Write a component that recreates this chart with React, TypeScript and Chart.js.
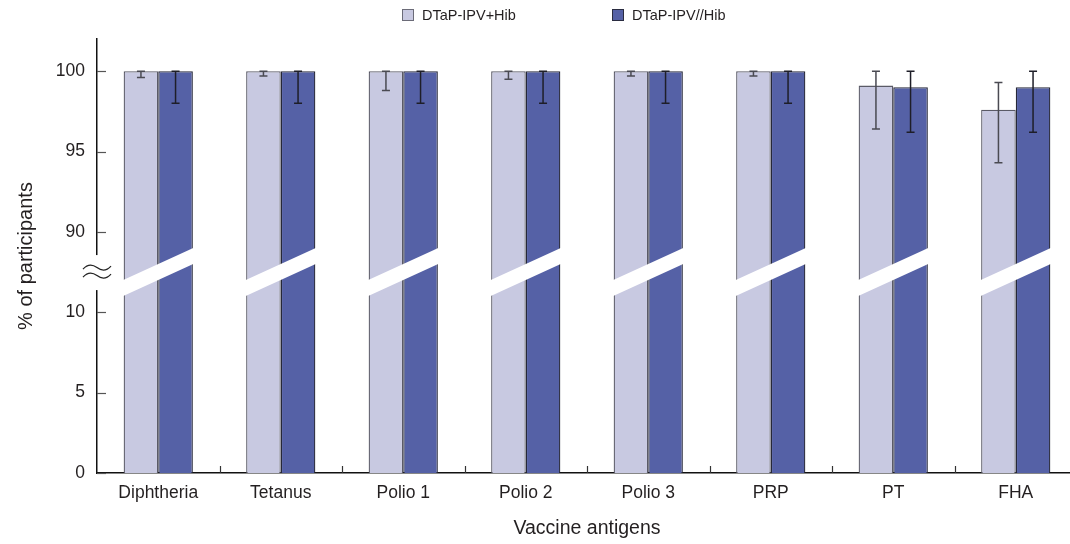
import React, { useEffect, useRef } from 'react';
import { Chart, registerables } from 'chart.js';

Chart.register(...registerables);

// ---------- data ----------
const categories = ['Diphtheria', 'Tetanus', 'Polio 1', 'Polio 2', 'Polio 3', 'PRP', 'PT', 'FHA'];
const seriesNames = ['DTaP-IPV+Hib', 'DTaP-IPV//Hib'];

const combinedValues = [100, 100, 100, 100, 100, 100, 99.1, 97.6];
const combinedLower = [99.6, 99.7, 98.8, 99.5, 99.7, 99.7, 96.4, 94.3];
const combinedUpper = [100, 100, 100, 100, 100, 100, 100, 99.3];

const separateValues = [100, 100, 100, 100, 100, 100, 99.0, 99.0];
const separateLower = [98.0, 98.0, 98.0, 98.0, 98.0, 98.0, 96.2, 96.2];
const separateUpper = [100, 100, 100, 100, 100, 100, 100, 100];

const yTickLabels = ['0', '5', '10', '90', '95', '100'];
const yTickValues = [0, 5, 10, 90, 95, 100];

// broken axis: values from 90 upwards are shifted down by 75
const BREAK_LOW = 10;
const BREAK_HIGH = 90;
const SHIFT = BREAK_HIGH - BREAK_LOW - 5; // 75
const mapValue = (v: number) => (v >= BREAK_HIGH ? v - SHIFT : v);
const BREAK_CENTER = 12.5; // in mapped units
const Y_MAX = 27;

// ---------- style ----------
const FONT = '"Liberation Sans", Arial, Helvetica, sans-serif';
const TEXT = '#231f20';
const LIGHT = '#c8c9e1';
const DARK = '#5561a6';
const LIGHT_BORDER = '#5a5a66';
const DARK_BORDER = '#262838';

const customPlugin = {
  id: 'customDecor',
  afterDatasetsDraw(chart: any) {
    const ctx = chart.ctx;
    const y = chart.scales.y;
    const metas = [chart.getDatasetMeta(0), chart.getDatasetMeta(1)];
    const lows = [combinedLower, separateLower];
    const highs = [combinedUpper, separateUpper];
    const errColors = ['#4a4a52', '#1e1e28'];

    // break bands
    const slope = -32 / 70;
    const half = 8;
    const cy = y.getPixelForValue(BREAK_CENTER);
    ctx.save();
    ctx.fillStyle = '#ffffff';
    categories.forEach((_, i) => {
      const b0 = metas[0].data[i];
      const b1 = metas[1].data[i];
      const L = b0.x - b0.width / 2 - 2;
      const R = b1.x + b1.width / 2 + 2;
      const cx = (L + R) / 2;
      const yl = cy + slope * (L - cx);
      const yr = cy + slope * (R - cx);
      ctx.beginPath();
      ctx.moveTo(L, yl - half);
      ctx.lineTo(R, yr - half);
      ctx.lineTo(R, yr + half);
      ctx.lineTo(L, yl + half);
      ctx.closePath();
      ctx.fill();
    });
    ctx.restore();

    // error bars
    ctx.save();
    ctx.lineWidth = 1.5;
    metas.forEach((meta, d) => {
      ctx.strokeStyle = errColors[d];
      meta.data.forEach((bar: any, i: number) => {
        const yLo = y.getPixelForValue(mapValue(lows[d][i]));
        const yHi = y.getPixelForValue(mapValue(highs[d][i]));
        const x = bar.x;
        ctx.beginPath();
        ctx.moveTo(x, yLo);
        ctx.lineTo(x, yHi);
        ctx.moveTo(x - 4, yLo);
        ctx.lineTo(x + 4, yLo);
        ctx.moveTo(x - 4, yHi);
        ctx.lineTo(x + 4, yHi);
        ctx.stroke();
      });
    });
    ctx.restore();
  },
  afterDraw(chart: any) {
    const ctx = chart.ctx;
    const { left, bottom, right } = chart.chartArea;
    const y = chart.scales.y;
    ctx.save();
    // inward y ticks
    ctx.strokeStyle = '#555';
    ctx.lineWidth = 1.2;
    yTickValues.forEach((v) => {
      const py = Math.round(y.getPixelForValue(mapValue(v))) + 0.5;
      ctx.beginPath();
      ctx.moveTo(left, py);
      ctx.lineTo(left + 9, py);
      ctx.stroke();
    });
    // inward x ticks at category boundaries
    const n = categories.length;
    const w = (right - left) / n;
    ctx.strokeStyle = '#333';
    for (let k = 1; k < n; k++) {
      const px = Math.round(left + k * w) + 0.5;
      ctx.beginPath();
      ctx.moveTo(px, bottom);
      ctx.lineTo(px, bottom - 7);
      ctx.stroke();
    }
    // axis gap and break symbol
    const cy = y.getPixelForValue(BREAK_CENTER);
    ctx.fillStyle = '#ffffff';
    ctx.fillRect(left - 3, cy - 17, 6, 35);
    ctx.strokeStyle = '#222';
    ctx.lineWidth = 1.3;
    [-4.5, 3.5].forEach((dy) => {
      const yy = cy + dy;
      const x0 = left - 14;
      const x1 = left + 14;
      const mid = (x0 + x1) / 2;
      ctx.beginPath();
      ctx.moveTo(x0, yy + 1.5);
      ctx.bezierCurveTo(x0 + 5, yy - 4, mid - 4, yy - 3, mid, yy);
      ctx.bezierCurveTo(mid + 4, yy + 3, x1 - 5, yy + 4, x1, yy - 1.5);
      ctx.stroke();
    });

    // legend
    const items = [
      { x: 402, fill: LIGHT, stroke: '#6b6b78' },
      { x: 612, fill: DARK, stroke: '#2a2c40' },
    ];
    ctx.font = `14.5px ${FONT}`;
    ctx.textBaseline = 'middle';
    ctx.textAlign = 'left';
    items.forEach((it, i) => {
      ctx.fillStyle = it.fill;
      ctx.fillRect(it.x + 0.5, 9.5, 11, 11);
      ctx.strokeStyle = it.stroke;
      ctx.lineWidth = 1;
      ctx.strokeRect(it.x + 0.5, 9.5, 11, 11);
      ctx.fillStyle = TEXT;
      ctx.fillText(seriesNames[i], it.x + 20, 15.5);
    });
    ctx.restore();
  },
};

export default function App() {
  const ref = useRef<HTMLCanvasElement | null>(null);
  useEffect(() => {
    if (!ref.current) return;
    Chart.defaults.font.family = FONT;
    Chart.defaults.color = TEXT;
    const chart = new Chart(ref.current, {
      type: 'bar',
      data: {
        labels: categories,
        datasets: [
          {
            label: seriesNames[0],
            data: combinedValues.map(mapValue),
            backgroundColor: LIGHT,
            borderColor: LIGHT_BORDER,
            borderWidth: 1.3,
            borderSkipped: 'bottom',
            categoryPercentage: 0.565,
            barPercentage: 1.0,
          },
          {
            label: seriesNames[1],
            data: separateValues.map(mapValue),
            backgroundColor: DARK,
            borderColor: DARK_BORDER,
            borderWidth: 1.3,
            borderSkipped: 'bottom',
            categoryPercentage: 0.565,
            barPercentage: 1.0,
          },
        ],
      },
      options: {
        responsive: false,
        animation: false,
        devicePixelRatio: 1,
        layout: { padding: { top: 39, right: 1, left: 0, bottom: 0 } },
        plugins: {
          legend: { display: false },
          tooltip: { enabled: false },
        },
        scales: {
          x: {
            grid: { display: false, drawTicks: false },
            border: { display: true, color: '#111', width: 1.5 },
            ticks: { padding: 10, color: TEXT, font: { size: 17.5 } },
            title: {
              display: true,
              text: 'Vaccine antigens',
              color: TEXT,
              font: { size: 19.5 },
              padding: { top: 0, bottom: 4 },
            },
            afterFit: (s: any) => {
              s.height = 71;
            },
          },
          y: {
            min: 0,
            max: Y_MAX,
            grid: { display: false, drawTicks: false },
            border: { display: true, color: '#111', width: 1.5 },
            afterBuildTicks: (s: any) => {
              s.ticks = yTickValues.map((v) => ({ value: mapValue(v) }));
            },
            ticks: {
              padding: 12,
              color: TEXT,
              font: { size: 17.5 },
              callback: (value: any) => {
                const idx = yTickValues.map(mapValue).indexOf(Number(value));
                return idx >= 0 ? yTickLabels[idx] : '';
              },
            },
            title: {
              display: true,
              text: '% of participants',
              color: TEXT,
              font: { size: 20 },
              padding: { top: 14, bottom: 0 },
            },
            afterFit: (s: any) => {
              s.width = 97;
            },
          },
        },
      },
      plugins: [customPlugin],
    });
    return () => chart.destroy();
  }, []);

  return (
    <div
      style={{
        position: 'absolute',
        left: 0,
        top: 0,
        width: 1070,
        height: 544,
        overflow: 'hidden',
        background: '#fff',
      }}
    >
      <canvas ref={ref} width={1078} height={544} style={{ display: 'block', width: 1078, height: 544 }} />
    </div>
  );
}
